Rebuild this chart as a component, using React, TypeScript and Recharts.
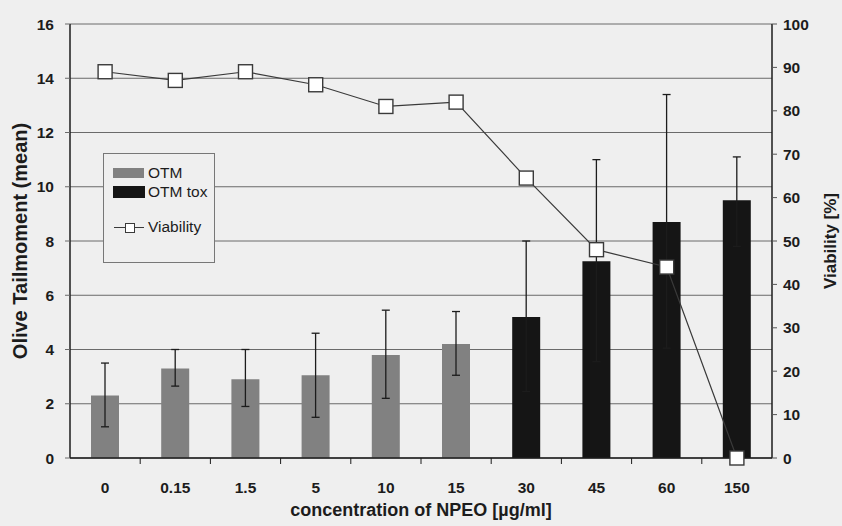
import { ComposedChart, Bar, Line, XAxis, YAxis, CartesianGrid, ErrorBar, Cell, Legend, Label } from "recharts";

const concentrations = ["0", "0.15", "1.5", "5", "10", "15", "30", "45", "60", "150"];
const otm = [2.3, 3.3, 2.9, 3.05, 3.8, 4.2, null, null, null, null];
const otmTox = [null, null, null, null, null, null, 5.2, 7.25, 8.7, 9.5];
const otmLow = [1.15, 2.65, 1.9, 1.5, 2.2, 3.05, 2.45, 3.55, 4.05, 7.8];
const otmHigh = [3.5, 4.0, 4.0, 4.6, 5.45, 5.4, 8.0, 11.0, 13.4, 11.1];
const viability = [89, 87, 89, 86, 81, 82, 64.5, 48, 44, 0];

const leftTicks = [0, 2, 4, 6, 8, 10, 12, 14, 16];
const rightTicks = [0, 10, 20, 30, 40, 50, 60, 70, 80, 90, 100];

const GREY = "#818181";
const BLACK = "#151515";
const INK = "#1c1c1c";
const FONT = "'Liberation Sans', Arial, sans-serif";

const data = concentrations.map((c, i) => {
  const tox = otmTox[i] != null;
  const mean = (tox ? otmTox[i] : otm[i]) as number;
  return {
    c,
    mean,
    tox,
    err: [mean - otmLow[i], otmHigh[i] - mean],
    viability: viability[i],
  };
});

const XTick = (props: any) => {
  const { x, y, payload, index } = props;
  const half = payload?.offset ?? 35;
  return (
    <g>
      {index > 0 && <line x1={x - half} x2={x - half} y1={y} y2={y + 6} stroke={INK} strokeWidth={1} />}
      <text x={x} y={y + 35} textAnchor="middle" fontSize={15.5} fontWeight="bold" fill={INK} fontFamily={FONT}>
        {payload.value}
      </text>
    </g>
  );
};

const SquareDot = (props: any) => {
  const { cx, cy, index } = props;
  if (cx == null || cy == null) return <g key={index} />;
  return <rect key={index} x={cx - 7} y={cy - 7} width={14} height={14} fill="#ffffff" stroke="#3a3a3a" strokeWidth={1.4} />;
};

const LegendBox = () => (
  <div
    style={{
      width: 112,
      height: 110,
      boxSizing: "border-box",
      border: "1px solid #777",
      background: "#efefef",
      position: "relative",
      fontFamily: FONT,
      fontSize: 15.5,
      color: INK,
    }}
  >
    <div style={{ position: "absolute", left: 9, top: 14, width: 31, height: 10, background: GREY }} />
    <div style={{ position: "absolute", left: 44, top: 10, lineHeight: "18px" }}>OTM</div>
    <div style={{ position: "absolute", left: 9, top: 32, width: 32, height: 12, background: BLACK }} />
    <div style={{ position: "absolute", left: 44, top: 29, lineHeight: "18px" }}>OTM tox</div>
    <div style={{ position: "absolute", left: 10, top: 73, width: 30, height: 1, background: "#3a3a3a" }} />
    <div style={{ position: "absolute", left: 21, top: 69, width: 8, height: 8, border: "1px solid #3a3a3a", background: "#fff" }} />
    <div style={{ position: "absolute", left: 44, top: 64, lineHeight: "18px" }}>Viability</div>
  </div>
);

export default function App() {
  return (
    <div style={{ position: "fixed", left: 0, top: 0, width: 842, height: 526, background: "#efefef" }}>
      <ComposedChart width={842} height={526} data={data} margin={{ top: 24, right: 0, bottom: 0, left: 0 }}>
        <CartesianGrid yAxisId="left" vertical={false} stroke="#6a6a6a" strokeWidth={1} />
        <XAxis
          dataKey="c"
          height={68}
          tickSize={0}
          tickMargin={0}
          tickLine={false}
          tick={<XTick />}
          interval={0}
          axisLine={{ stroke: INK, strokeWidth: 1.5 }}
        >
          <Label
            value="concentration of NPEO [µg/ml]"
            position="center"
            dy={18}
            style={{ fontSize: 18, fontWeight: "bold", fill: INK, fontFamily: FONT }}
          />
        </XAxis>
        <YAxis
          yAxisId="left"
          width={70}
          domain={[0, 16]}
          ticks={leftTicks}
          interval={0}
          tickSize={5}
          tickMargin={11}
          tick={{ fontSize: 15.5, fontWeight: "bold", fill: INK, fontFamily: FONT }}
          tickLine={{ stroke: "#6a6a6a" }}
          axisLine={{ stroke: INK, strokeWidth: 1.5 }}
        >
          <Label
            value="Olive Tailmoment (mean)"
            angle={-90}
            position="center"
            dx={-15}
            style={{ fontSize: 20, fontWeight: "bold", fill: INK, fontFamily: FONT, textAnchor: "middle" }}
          />
        </YAxis>
        <YAxis
          yAxisId="right"
          orientation="right"
          width={70}
          domain={[0, 100]}
          ticks={rightTicks}
          interval={0}
          tickSize={5}
          tickMargin={6}
          tick={{ fontSize: 15.5, fontWeight: "bold", fill: INK, fontFamily: FONT }}
          tickLine={{ stroke: "#555" }}
          axisLine={{ stroke: INK, strokeWidth: 1.5 }}
        >
          <Label
            value="Viability [%]"
            angle={-90}
            position="center"
            dx={23}
            style={{ fontSize: 17, fontWeight: "bold", fill: INK, fontFamily: FONT, textAnchor: "middle" }}
          />
        </YAxis>
        <Legend
          layout="horizontal"
          verticalAlign="middle"
          content={<LegendBox />}
          wrapperStyle={{ position: "absolute", left: 103, top: 153, width: 112, height: 110 }}
        />
        <Bar yAxisId="left" dataKey="mean" name="OTM" barSize={28} isAnimationActive={false}>
          {data.map((d, i) => (
            <Cell key={i} fill={d.tox ? BLACK : GREY} />
          ))}
          <ErrorBar dataKey="err" direction="y" width={4} stroke={INK} strokeWidth={1.3} />
        </Bar>
        <Line
          yAxisId="right"
          type="linear"
          dataKey="viability"
          name="Viability"
          stroke="#3a3a3a"
          strokeWidth={1.2}
          dot={<SquareDot />}
          activeDot={false}
          isAnimationActive={false}
        />
      </ComposedChart>
    </div>
  );
}
